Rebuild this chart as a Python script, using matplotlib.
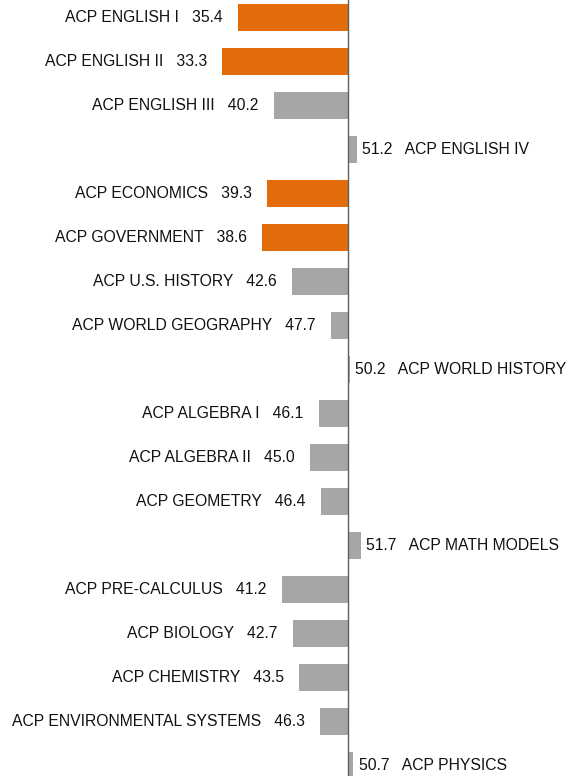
import matplotlib
matplotlib.use("Agg")
import matplotlib.pyplot as plt
import numpy as np

courses = ["ACP ENGLISH I", "ACP ENGLISH II", "ACP ENGLISH III", "ACP ENGLISH IV",
           "ACP ECONOMICS", "ACP GOVERNMENT", "ACP U.S. HISTORY", "ACP WORLD GEOGRAPHY",
           "ACP WORLD HISTORY", "ACP ALGEBRA I", "ACP ALGEBRA II", "ACP GEOMETRY",
           "ACP MATH MODELS", "ACP PRE-CALCULUS", "ACP BIOLOGY", "ACP CHEMISTRY",
           "ACP ENVIRONMENTAL SYSTEMS", "ACP PHYSICS"]
scores = [35.4, 33.3, 40.2, 51.2, 39.3, 38.6, 42.6, 47.7, 50.2, 46.1, 45.0, 46.4,
          51.7, 41.2, 42.7, 43.5, 46.3, 50.7]
baseline = 50
highlight_below = 40

ORANGE = "#E36C0A"
GREY = "#A6A6A6"

plt.rcParams["font.family"] = ["Liberation Sans", "DejaVu Sans"]

fig = plt.figure(figsize=(5.72, 7.76), dpi=100)
ax = fig.add_axes([0, 0, 1, 1])

y = np.arange(len(courses))
vals = np.array(scores)
colors = [ORANGE if v < highlight_below else GREY for v in vals]
ax.barh(y, vals - baseline, left=baseline, height=0.614, color=colors, zorder=2)
ax.axvline(baseline, color="#5f5f5f", lw=1.0, zorder=3)

FS = 11.3
for yi, name, v in zip(y, courses, vals):
    if v < baseline:
        ax.annotate(f"{name}   {v:.1f}", xy=(v, yi), xytext=(-11, 0),
                    textcoords="offset points", ha="right", va="center",
                    fontsize=FS, color="#111111")
    else:
        ax.annotate(f"{v:.1f}   {name}", xy=(v, yi), xytext=(3.8, 0),
                    textcoords="offset points", ha="left", va="center",
                    fontsize=FS, color="#111111")

ax.set_xlim(3.85, 79.7)
ax.set_ylim(17.24, -0.40)
ax.axis("off")

fig.savefig("out.png", dpi=100, facecolor="white")
